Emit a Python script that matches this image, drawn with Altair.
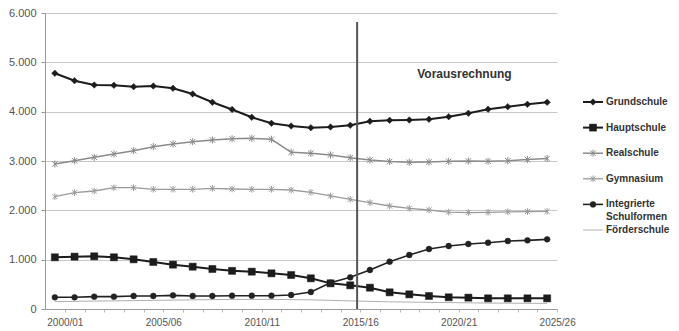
import altair as alt
import pandas as pd

# School years on the category axis
years = [
    "2000/01", "2001/02", "2002/03", "2003/04", "2004/05", "2005/06", "2006/07",
    "2007/08", "2008/09", "2009/10", "2010/11", "2011/12", "2012/13", "2013/14",
    "2014/15", "2015/16", "2016/17", "2017/18", "2018/19", "2019/20", "2020/21",
    "2021/22", "2022/23", "2023/24", "2024/25", "2025/26",
]

# Pupils per school type (in thousands, 2015/16 onward projected)
grundschule = [4778, 4628, 4540, 4534, 4506, 4520, 4474, 4358, 4190, 4045, 3886, 3764, 3709,
               3675, 3689, 3724, 3805, 3825, 3831, 3845, 3898, 3967, 4048, 4101, 4149, 4190]
hauptschule = [1048, 1061, 1068, 1048, 1007, 953, 899, 858, 811, 773, 757, 723, 689,
               622, 520, 480, 432, 338, 297, 264, 237, 230, 216, 216, 216, 216]
realschule = [2939, 3006, 3075, 3142, 3209, 3290, 3345, 3391, 3426, 3450, 3460, 3440, 3176,
              3156, 3122, 3067, 3020, 2990, 2975, 2980, 2993, 3000, 2995, 3005, 3030, 3050]
gymnasium = [2276, 2358, 2392, 2459, 2459, 2426, 2426, 2426, 2446, 2432, 2426, 2426, 2412,
             2365, 2291, 2223, 2155, 2088, 2040, 2007, 1965, 1955, 1960, 1970, 1975, 1980]
integrierte = [237, 237, 250, 250, 264, 264, 277, 264, 264, 270, 270, 270, 284,
               345, 534, 642, 791, 959, 1095, 1216, 1277, 1318, 1344, 1378, 1392, 1412]
foerderschule = [150, 155, 160, 165, 170, 175, 180, 185, 190, 195, 195, 195, 190,
                 185, 175, 165, 155, 145, 140, 135, 130, 125, 120, 118, 115, 115]

series_names = ["Grundschule", "Hauptschule", "Realschule", "Gymnasium",
                "Integrierte Schulformen", "Förderschule"]
legend_line1 = ["Grundschule", "Hauptschule", "Realschule", "Gymnasium", "Integrierte", "Förderschule"]
legend_line2 = ["", "", "", "", "Schulformen", ""]
series_values = [grundschule, hauptschule, realschule, gymnasium, integrierte, foerderschule]

projection_start = 15.35     # boundary after 2015/16
projection_top = 5820
projection_label = "Vorausrechnung"

rows = []
for name, vals in zip(series_names, series_values):
    for i, v in enumerate(vals):
        rows.append({"series": name, "idx": i, "year": years[i], "value": v})
df = pd.DataFrame(rows)

legend_df = pd.DataFrame({"series": series_names, "line1": legend_line1, "line2": legend_line2})

ASTER = "M-1,-1L1,1M-1,1L1,-1M0,-1.3L0,1.3"
styles = {
    "Grundschule": dict(color="#1c1c1c", width=2, shape="diamond", size=42, filled=True),
    "Hauptschule": dict(color="#1c1c1c", width=2, shape="square", size=50, filled=True),
    "Realschule": dict(color="#8a8a8a", width=1.5, shape=ASTER, size=30, filled=False),
    "Gymnasium": dict(color="#9a9a9a", width=1.3, shape=ASTER, size=26, filled=False),
    "Integrierte Schulformen": dict(color="#222222", width=1.6, shape="circle", size=34, filled=True),
    "Förderschule": dict(color="#b0b0b0", width=1, shape=None),
}

year_array = "[" + ",".join(f"'{y}'" for y in years) + "]"

X = alt.X(
    "idx:Q",
    scale=alt.Scale(domain=[-0.5, len(years) - 0.5], nice=False, zero=False),
    axis=alt.Axis(
        title=None, values=list(range(len(years))), grid=False,
        labelExpr=f"datum.value % 5 == 0 ? {year_array}[datum.value] : ''",
        labelFlush=False, labelOverlap=False,
        tickSize=3, tickColor="#bbbbbb", tickOffset=10,
        domainColor="#999999", labelPadding=5,
        labelFont="Liberation Sans", labelFontSize=10, labelColor="#555555",
    ),
)
Y = alt.Y(
    "value:Q",
    scale=alt.Scale(domain=[0, 6000], nice=False),
    axis=alt.Axis(
        title=None, values=[0, 1000, 2000, 3000, 4000, 5000, 6000],
        labelExpr="replace(format(datum.value, ','), ',', '.')",
        grid=True, gridColor="#c8c8c8", domainColor="#999999",
        tickColor="#999999", tickSize=4, labelPadding=5,
        labelFont="Liberation Sans", labelFontSize=11, labelColor="#555555",
    ),
)


def point_mark(chart, st):
    if st["filled"]:
        return chart.mark_point(shape=st["shape"], size=st["size"], filled=True,
                                fill=st["color"], stroke=st["color"], strokeWidth=0.5, opacity=1)
    return chart.mark_point(shape=st["shape"], size=st["size"], filled=False,
                            stroke=st["color"], strokeWidth=1, opacity=1)


base = alt.Chart(df)
layers = []
for name in series_names:
    st = styles[name]
    sub = base.transform_filter(alt.datum.series == name)
    layers.append(sub.mark_line(color=st["color"], strokeWidth=st["width"]).encode(x=X, y=Y))
for name in series_names:
    st = styles[name]
    if st["shape"] is None:
        continue
    sub = base.transform_filter(alt.datum.series == name)
    layers.append(point_mark(sub, st).encode(x=X, y=Y))

proj_df = pd.DataFrame({"idx": [projection_start], "value": [projection_top], "bottom": [0]})
proj_rule = alt.Chart(proj_df).mark_rule(color="#555555", strokeWidth=2).encode(
    x=X, y=Y, y2="bottom:Q")

label_df = pd.DataFrame({"idx": [18.4], "value": [4760], "text": [projection_label]})
proj_text = alt.Chart(label_df).mark_text(
    align="left", baseline="middle", font="Liberation Sans", fontSize=12,
    fontWeight="bold", color="#333333").encode(x=X, y=Y, text="text:N")

main = alt.layer(*layers, proj_rule, proj_text)

# Legend to the right of the plot area, rows placed by their own point scale
YL = alt.Y("series:N", scale=alt.Scale(type="point", domain=series_names, range=[89, 217], padding=0),
           axis=None)
lbase = alt.Chart(legend_df)
leg_layers = []
for name in series_names:
    st = styles[name]
    sub = lbase.transform_filter(alt.datum.series == name)
    leg_layers.append(sub.mark_rule(color=st["color"], strokeWidth=st["width"]).encode(
        x=alt.value(538), x2=alt.value(558), y=YL))
    if st["shape"] is not None:
        leg_layers.append(point_mark(sub, st).encode(x=alt.value(548), y=YL))
leg_layers.append(lbase.mark_text(align="left", baseline="middle", font="Liberation Sans",
                                  fontSize=10, fontWeight="bold", color="#333333").encode(
    x=alt.value(561), y=YL, text="line1:N"))
leg_layers.append(lbase.mark_text(align="left", baseline="middle", font="Liberation Sans",
                                  fontSize=10, fontWeight="bold", color="#333333", dy=13).encode(
    x=alt.value(561), y=YL, text="line2:N"))
legend = alt.layer(*leg_layers)

chart = alt.layer(main, legend).resolve_scale(y="independent").properties(
    width=512, height=296,
    padding={"left": 8, "top": 7, "right": 0, "bottom": 0},
    background="white",
).configure_view(stroke=None)

chart.save("out.html", embed_options={"renderer": "svg", "actions": False})
